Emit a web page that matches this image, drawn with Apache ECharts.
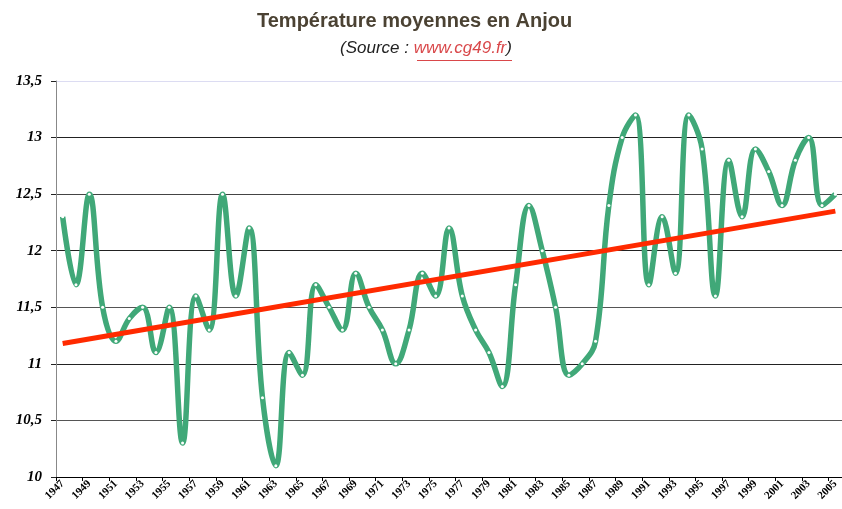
<!DOCTYPE html>
<html>
<head>
<meta charset="utf-8">
<script src="https://cdn.jsdelivr.net/npm/echarts@6/dist/echarts.min.js"></script>
<style>
  html, body { margin: 0; padding: 0; background: #fff; }
  #chart { width: 842px; height: 509px; }
</style>
</head>
<body>
<div id="chart"></div>
<script>
// years 1947 -> 2005
const years = []
for (let y = 1947; y <= 2005; y++) years.push(String(y))

// mean temperature
const temperatures = [
  12.3, 11.7, 12.5, 11.5, 11.2, 11.4, 11.5, 11.1, 11.5, 10.3,
  11.6, 11.3, 12.5, 11.6, 12.2, 10.7, 10.1, 11.1, 10.9, 11.7,
  11.5, 11.3, 11.8, 11.5, 11.3, 11.0, 11.3, 11.8, 11.6, 12.2,
  11.6, 11.3, 11.1, 10.8, 11.7, 12.4, 12.0, 11.5, 10.9, 11.0,
  11.2, 12.4, 13.0, 13.2, 11.7, 12.3, 11.8, 13.2, 12.9, 11.6,
  12.8, 12.3, 12.9, 12.7, 12.4, 12.8, 13.0, 12.4, 12.5
]

// trend line end points (straight line between first and last year)
const trendStart = 11.18
const trendEnd = 12.35
const trend = years.map((_, i) => i === 0 ? trendStart : (i === years.length - 1 ? trendEnd : null))

const chart = echarts.init(document.getElementById('chart'))

const option = {
  animation: false,
  backgroundColor: '#fff',
  title: [
    {
      text: 'Température moyennes en Anjou',
      left: 257,
      top: 11,
      padding: 0,
      textStyle: {
        fontFamily: 'Liberation Sans, Arial, sans-serif',
        fontWeight: 'bold',
        fontSize: 20,
        color: '#4b4233'
      }
    },
    {
      text: '(Source : {u|www.cg49.fr})',
      left: 340,
      top: 40,
      padding: 0,
      textStyle: {
        fontFamily: 'Liberation Sans, Arial, sans-serif',
        fontStyle: 'italic',
        fontWeight: 'normal',
        fontSize: 17,
        color: '#222',
        rich: {
          u: {
            fontFamily: 'Liberation Sans, Arial, sans-serif',
            fontStyle: 'italic',
            fontSize: 17,
            color: '#d9484a'
          }
        }
      }
    }
  ],
  graphic: [
    {
      type: 'line',
      shape: { x1: 417, y1: 60.5, x2: 512, y2: 60.5 },
      style: { stroke: '#d9484a', lineWidth: 1 }
    }
  ],
  grid: {
    left: 56,
    right: -5,
    top: 81,
    bottom: 32
  },
  xAxis: {
    type: 'category',
    data: years,
    boundaryGap: true,
    axisLine: { lineStyle: { color: '#000', width: 1 } },
    axisTick: { show: true, length: 4, lineStyle: { color: '#000' } },
    axisLabel: {
      interval: 1,
      rotate: 45,
      margin: 5,
      fontFamily: 'Liberation Serif, serif',
      fontWeight: 'bold',
      fontSize: 11,
      color: '#000'
    },
    splitLine: { show: false }
  },
  yAxis: {
    type: 'value',
    min: 10,
    max: 13.5,
    interval: 0.5,
    axisLine: { show: true, lineStyle: { color: '#888', width: 1 } },
    axisTick: { show: true, length: 5, lineStyle: { color: '#222' } },
    axisLabel: {
      margin: 14,
      fontFamily: 'Liberation Serif, serif',
      fontWeight: 'bold',
      fontStyle: 'italic',
      fontSize: 15,
      color: '#000',
      formatter: v => String(v).replace('.', ',')
    },
    splitLine: {
      show: true,
      lineStyle: {
        color: ['#000', '#555', '#222', '#555', '#222', '#444', '#222', '#dcdcf2'],
        width: 1
      }
    }
  },
  series: [
    {
      name: 'Température',
      type: 'line',
      data: temperatures,
      smooth: 0.4,
      showAllSymbol: true,
      symbol: 'circle',
      symbolSize: 3,
      itemStyle: { color: '#ffffff', borderWidth: 0 },
      lineStyle: { color: '#40a878', width: 5.5 },
      z: 2
    },
    {
      name: 'Tendance',
      type: 'line',
      data: trend,
      connectNulls: true,
      showSymbol: false,
      smooth: false,
      lineStyle: { color: '#ff2a00', width: 5 },
      z: 3
    }
  ]
}

chart.setOption(option)
</script>
</body>
</html>
